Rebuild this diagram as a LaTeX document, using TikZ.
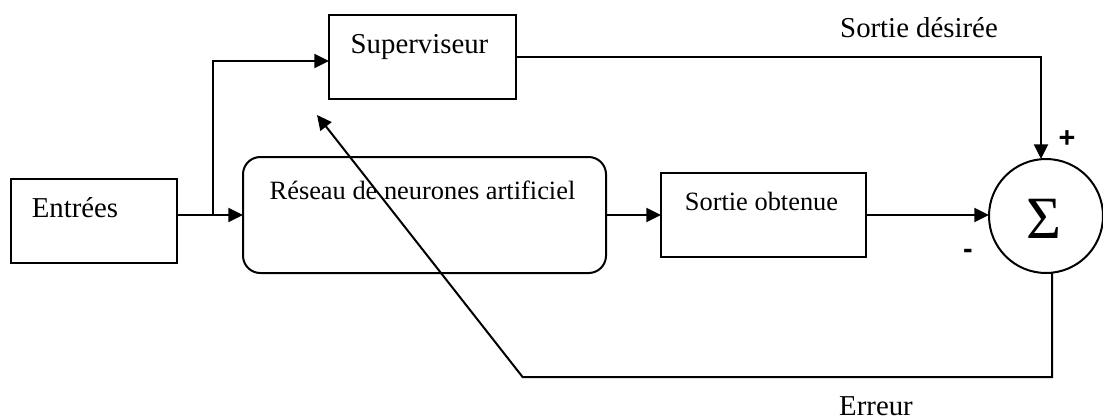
\documentclass[tikz,border=0pt]{standalone}
\usepackage{fontspec}
\setmainfont{Liberation Serif}
\newfontfamily\signfont{Liberation Sans}
\usetikzlibrary{arrows.meta}

\tikzset{every picture/.style={line width=1.5pt}}
\tikzset{
  block/.style={draw, inner sep=0pt, outer sep=0pt},
  txt/.style={anchor=base, inner sep=0.75pt, font=\fontsize{21.6}{24}\selectfont},
  smalltxt/.style={anchor=base, inner sep=0.75pt, font=\fontsize{19.8}{22}\selectfont},
  sign/.style={inner sep=0pt, font=\signfont\bfseries\fontsize{21.6}{24}\selectfont},
  flow/.style={-{Triangle[length=11pt,width=10.5pt]}}
}

\begin{document}
\begin{tikzpicture}[x=0.75pt,y=0.75pt,yscale=-1,xscale=1]
\useasboundingbox (0,0) rectangle (1103,419);

%Shapes
\node [block, minimum width=124.5pt, minimum height=63pt] (entrees) at (94,221) {};
\node [block, minimum width=140.25pt, minimum height=63pt] (superviseur) at (422.5,57) {};
\node [block, rounded corners=13pt, minimum width=272.25pt, minimum height=87pt] (reseau) at (424.5,215) {};
\node [block, minimum width=153.75pt, minimum height=63pt] (obtenue) at (763.5,215) {};
\node [block, circle, minimum size=85.5pt] (sum) at (1046,216) {};

% Text Node
\node [txt] (tEntrees) at (75,217) {Entrées};
\node [txt] (tSuperviseur) at (419.5,53) {Superviseur};
\node [smalltxt] (tReseau) at (422.5,199) {Réseau de neurones artificiel};
\node [smalltxt] (tObtenue) at (761.5,210) {Sortie obtenue};
\node [txt] (tDesiree) at (919,37) {Sortie désirée};
\node [txt] (tErreur) at (876,415) {Erreur};
\node [anchor=base, inner sep=0pt, font=\fontsize{45}{50}\selectfont] (sigma) at (1044,238) {Σ};
\node [sign] (plus) at (1067,139) {+};
\node [sign] (minus) at (968,254) {-};

%Connectors
\coordinate (split) at (213,215);
\coordinate (errturn) at (522.6,377);
\coordinate (tip) at (317,115);
\draw [flow] (entrees.east |- reseau.west) -- (reseau.west);
\draw [flow] (split) |- ([yshift=3pt]superviseur.west);
\draw [flow] (reseau.east) -- (obtenue.west);
\draw [flow] (obtenue.east) -- (obtenue.east -| sum.west);
\draw [flow] (superviseur.east) -| ([xshift=-3.75pt]sum.north);
\draw [flow] ([xshift=4.5pt]sum.south) |- (errturn) -- (tip);

\end{tikzpicture}
\end{document}
